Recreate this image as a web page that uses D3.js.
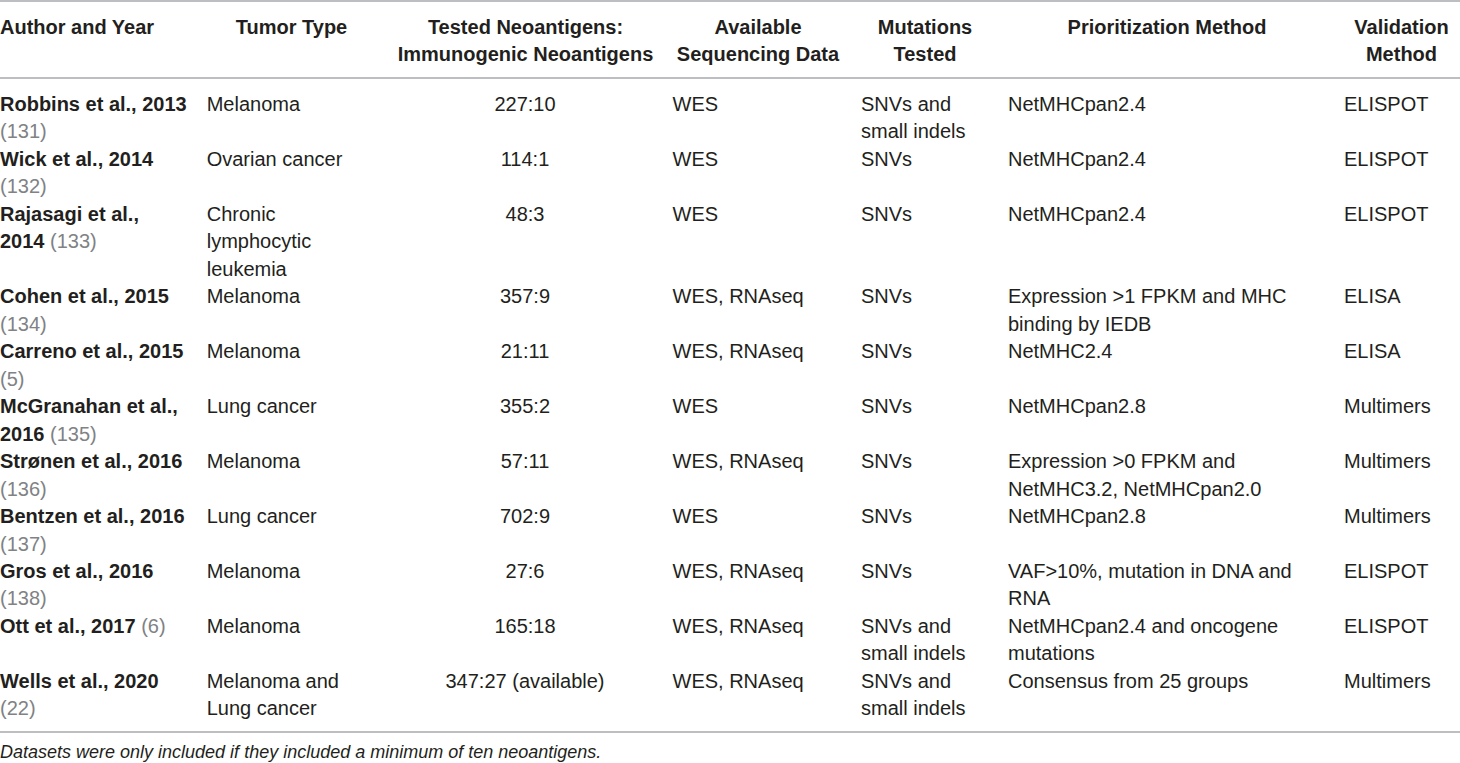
<!DOCTYPE html>
<html>
<head>
<meta charset="utf-8">
<script src="https://cdn.jsdelivr.net/npm/d3@7"></script>
<style>
html, body { margin: 0; padding: 0; background: #fff; }
svg { display: block; }
text { font-family: 'Liberation Sans', Arial, Helvetica, sans-serif; white-space: pre; }
</style>
</head>
<body>
<svg id="chart"></svg>
<script>
const headers = ['Author and Year', 'Tumor Type', 'Tested Neoantigens: Immunogenic Neoantigens',
	'Available Sequencing Data', 'Mutations Tested', 'Prioritization Method', 'Validation Method']

const authors = ['Robbins et al., 2013', 'Wick et al., 2014', 'Rajasagi et al., 2014', 'Cohen et al., 2015',
	'Carreno et al., 2015', 'McGranahan et al., 2016', 'Strønen et al., 2016', 'Bentzen et al., 2016',
	'Gros et al., 2016', 'Ott et al., 2017', 'Wells et al., 2020']
const refs = ['131', '132', '133', '134', '5', '135', '136', '137', '138', '6', '22']
const tumorTypes = ['Melanoma', 'Ovarian cancer', 'Chronic lymphocytic leukemia', 'Melanoma', 'Melanoma',
	'Lung cancer', 'Melanoma', 'Lung cancer', 'Melanoma', 'Melanoma', 'Melanoma and Lung cancer']
const testedCounts = [227, 114, 48, 357, 21, 355, 57, 702, 27, 165, 347]
const immunogenicCounts = [10, 1, 3, 9, 11, 2, 11, 9, 6, 18, 27]
const countNotes = ['', '', '', '', '', '', '', '', '', '', '(available)']
const sequencingData = ['WES', 'WES', 'WES', 'WES, RNAseq', 'WES, RNAseq', 'WES', 'WES, RNAseq', 'WES',
	'WES, RNAseq', 'WES, RNAseq', 'WES, RNAseq']
const mutationsTested = ['SNVs and small indels', 'SNVs', 'SNVs', 'SNVs', 'SNVs', 'SNVs', 'SNVs', 'SNVs',
	'SNVs', 'SNVs and small indels', 'SNVs and small indels']
const prioritization = ['NetMHCpan2.4', 'NetMHCpan2.4', 'NetMHCpan2.4',
	'Expression >1 FPKM and MHC binding by IEDB', 'NetMHC2.4', 'NetMHCpan2.8',
	'Expression >0 FPKM and NetMHC3.2, NetMHCpan2.0', 'NetMHCpan2.8',
	'VAF>10%, mutation in DNA and RNA', 'NetMHCpan2.4 and oncogene mutations', 'Consensus from 25 groups']
const validation = ['ELISPOT', 'ELISPOT', 'ELISPOT', 'ELISA', 'ELISA', 'Multimers', 'Multimers',
	'Multimers', 'ELISPOT', 'ELISPOT', 'Multimers']
const footnote = 'Datasets were only included if they included a minimum of ten neoantigens.'

// ---- layout ----
const W = 1460, H = 763
const FONT_SIZE = 20
const LINE = 27.47
const INK = '#231f20', GREY_INK = '#808285', RULE = '#a7a9ac'

const columns = [
	{ key: 'author', x: 0, wrap: 188, anchor: 'start', hx: 0, hAnchor: 'start' },
	{ key: 'tumor', x: 206.7, wrap: 160, anchor: 'start', hx: 291.5, hAnchor: 'middle' },
	{ key: 'tested', x: 525, wrap: 300, anchor: 'middle', hx: 525.5, hAnchor: 'middle' },
	{ key: 'seq', x: 672.5, wrap: 185, anchor: 'start', hx: 758, hAnchor: 'middle' },
	{ key: 'mut', x: 861, wrap: 135, anchor: 'start', hx: 925, hAnchor: 'middle' },
	{ key: 'prio', x: 1008, wrap: 310, anchor: 'start', hx: 1167, hAnchor: 'middle' },
	{ key: 'valid', x: 1344, wrap: 112, anchor: 'start', hx: 1401.5, hAnchor: 'middle' }
]

const svg = d3.select('#chart').attr('width', W).attr('height', H)

// hidden text node used to measure words
const probe = svg.append('text').attr('font-size', FONT_SIZE).attr('visibility', 'hidden')
function measure(str, bold) {
	probe.attr('font-weight', bold ? 'bold' : 'normal').text(str)
	return probe.node().getComputedTextLength()
}

// cell content -> tokens {t, bold, grey}
function tokens(str, style) {
	return str.split(' ').map(t => ({ t, bold: !!style.bold, grey: !!style.grey }))
}

// greedy wrap on measured widths
function wrap(toks, maxWidth) {
	const lines = []
	let line = [], width = 0
	toks.forEach(tok => {
		const w = measure(tok.t, tok.bold)
		const sp = line.length ? measure(' ', false) : 0
		if (line.length && width + sp + w > maxWidth) {
			lines.push(line)
			line = [tok]
			width = w
		} else {
			line.push(tok)
			width += sp + w
		}
	})
	if (line.length) lines.push(line)
	return lines
}

function drawLine(g, line, x, y, anchor, weightDefault) {
	const text = g.append('text')
		.attr('x', x)
		.attr('y', y)
		.attr('font-size', FONT_SIZE)
		.attr('text-anchor', anchor)
		.attr('fill', INK)

	// group consecutive tokens of same style into one tspan
	const runs = []
	line.forEach((tok, i) => {
		const last = runs[runs.length - 1]
		const piece = (i ? ' ' : '') + tok.t
		if (last && last.bold === tok.bold && last.grey === tok.grey) last.t += piece
		else runs.push({ t: piece, bold: tok.bold, grey: tok.grey })
	})
	text.selectAll('tspan')
		.data(runs)
		.join('tspan')
		.attr('font-weight', d => d.bold ? 'bold' : (weightDefault || 'normal'))
		.attr('fill', d => d.grey ? GREY_INK : INK)
		.text(d => d.t)
}

// baseline offset from the visual centre of a line
const BASE = 7

// ---- rules ----
const rules = [1, 78, 732]
svg.append('g').selectAll('line')
	.data(rules)
	.join('line')
	.attr('x1', 0).attr('x2', W)
	.attr('y1', d => d).attr('y2', d => d)
	.attr('stroke', RULE)
	.attr('stroke-width', 1.6)

// ---- header ----
const headY = d3.scaleLinear().domain([0, 1]).range([27, 27 + LINE])
const gHead = svg.append('g')
headers.forEach((h, i) => {
	const col = columns[i]
	const lines = wrap(tokens(h, { bold: true }), col.wrap)
	lines.forEach((line, j) => drawLine(gHead, line, col.hx, headY(j) + BASE, col.hAnchor))
})

// ---- body ----
const rows = authors.map((a, i) => [
	tokens(a, { bold: true }).concat(tokens('(' + refs[i] + ')', { grey: true })),
	tokens(tumorTypes[i], {}),
	tokens(testedCounts[i] + ':' + immunogenicCounts[i] + (countNotes[i] ? ' ' + countNotes[i] : ''), {}),
	tokens(sequencingData[i], {}),
	tokens(mutationsTested[i], {}),
	tokens(prioritization[i], {}),
	tokens(validation[i], {})
])

const bodyY = d3.scaleLinear().domain([0, 1]).range([104, 104 + LINE])
const gBody = svg.append('g')
let lineIndex = 0
rows.forEach(cells => {
	const wrapped = cells.map((toks, c) => wrap(toks, columns[c].wrap))
	const n = d3.max(wrapped, d => d.length)
	wrapped.forEach((lines, c) => {
		const col = columns[c]
		lines.forEach((line, j) => drawLine(gBody, line, col.x, bodyY(lineIndex + j) + BASE, col.anchor))
	})
	lineIndex += n
})

probe.remove()

// ---- footnote ----
svg.append('text')
	.attr('x', 0)
	.attr('y', 758)
	.attr('font-size', 18)
	.attr('font-style', 'italic')
	.attr('fill', INK)
	.text(footnote)
</script>
</body>
</html>
